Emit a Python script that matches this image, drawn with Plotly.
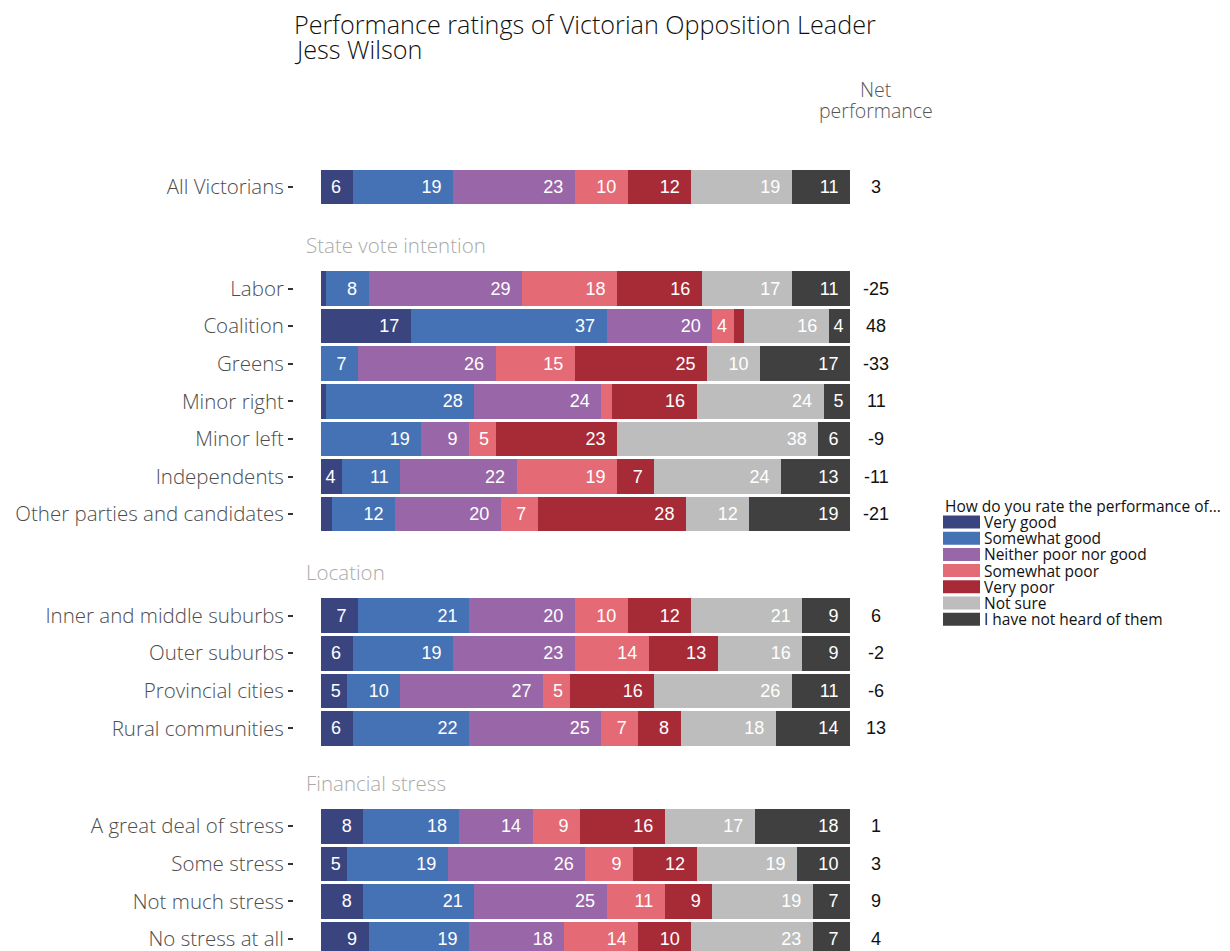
import plotly.graph_objects as go

categories = ["All Victorians",
              "Labor", "Coalition", "Greens", "Minor right", "Minor left", "Independents",
              "Other parties and candidates",
              "Inner and middle suburbs", "Outer suburbs", "Provincial cities", "Rural communities",
              "A great deal of stress", "Some stress", "Not much stress", "No stress at all"]
row_pos = [0,
           2.7, 3.7, 4.7, 5.7, 6.7, 7.7, 8.7,
           11.4, 12.4, 13.4, 14.4,
           17.0, 18.0, 19.0, 20.0]

sections = ["State vote intention", "Location", "Financial stress"]
section_pos = [1.55, 10.25, 15.85]

series_names = ["Very good", "Somewhat good", "Neither poor nor good", "Somewhat poor",
                "Very poor", "Not sure", "I have not heard of them"]
very_good = [6, 1, 17, 0, 1, 0, 4, 2, 7, 6, 5, 6, 8, 5, 8, 9]
somewhat_good = [19, 8, 37, 7, 28, 19, 11, 12, 21, 19, 10, 22, 18, 19, 21, 19]
neither = [23, 29, 20, 26, 24, 9, 22, 20, 20, 23, 27, 25, 14, 26, 25, 18]
somewhat_poor = [10, 18, 4, 15, 2, 5, 19, 7, 10, 14, 5, 7, 9, 9, 11, 14]
very_poor = [12, 16, 2, 25, 16, 23, 7, 28, 12, 13, 16, 8, 16, 12, 9, 10]
not_sure = [19, 17, 16, 10, 24, 38, 24, 12, 21, 16, 26, 18, 17, 19, 19, 23]
not_heard = [11, 11, 4, 17, 5, 6, 13, 19, 9, 9, 11, 14, 18, 10, 7, 7]
net_performance = [3, -25, 48, -33, 11, -9, -11, -21, 6, -2, -6, 13, 1, 3, 9, 4]

title_lines = ["Performance ratings of Victorian Opposition Leader", "Jess Wilson"]
net_header_lines = ["Net", "performance"]
legend_title = "How do you rate the performance of…"

colors = ["#3a4580", "#4572b4", "#9966a8", "#e46a75", "#a62b37", "#bdbdbd", "#404040"]
all_series = [very_good, somewhat_good, neither, somewhat_poor, very_poor, not_sure, not_heard]

LABEL_FONT = "Open Sans, Lato, sans-serif"
NUM_FONT = "Liberation Sans, Arial, sans-serif"
PAD = "\u00a0\u2009"

# page geometry (screen pixels; the page body adds an 8px offset)
PLOT_TOP = 140
PLOT_H = 819
PLOT_LEFT = 294
PLOT_W = 556


def py(screen_y):
    return 1 - (screen_y - PLOT_TOP) / PLOT_H


def px(screen_x):
    return (screen_x - PLOT_LEFT) / PLOT_W


def seg_label(v):
    if v < 4:
        return ""
    if v <= 5:
        return str(v) + "\u2009"
    return str(v) + PAD


fig = go.Figure()
for name, vals, col in zip(series_names, all_series, colors):
    fig.add_trace(go.Bar(
        y=row_pos, x=vals, name=name, orientation="h",
        marker=dict(color=col, line=dict(width=0)),
        width=0.92,
        text=[seg_label(v) for v in vals],
        textposition="inside", insidetextanchor="end",
        textfont=dict(family=NUM_FONT, size=18, color="white"),
        constraintext="none",
        hoverinfo="x+name",
        showlegend=False,
    ))

# net performance column
for y, v in zip(row_pos, net_performance):
    fig.add_annotation(x=px(876), xref="paper", y=y, yref="y", text=str(v), showarrow=False,
                       xanchor="center", yanchor="middle",
                       font=dict(family=NUM_FONT, size=18, color="#111111"))
for line, sy in zip(net_header_lines, [89, 111]):
    fig.add_annotation(x=px(876), xref="paper", y=py(sy), yref="paper", text=line,
                       showarrow=False, xanchor="center", yanchor="middle",
                       font=dict(family=LABEL_FONT, size=19.5, color="#555555", weight=300))

for s, p in zip(sections, section_pos):
    fig.add_annotation(x=-3.3, xref="x", y=p, yref="y", text=s, showarrow=False,
                       xanchor="left", yanchor="middle",
                       font=dict(family=LABEL_FONT, size=20.5, color="#aaaaaa", weight=300))

# title
for line, sy in zip(title_lines, [23.5, 49]):
    fig.add_annotation(x=px(292), xref="paper", y=py(sy), yref="paper", text=line,
                       showarrow=False, xanchor="left", yanchor="middle",
                       font=dict(family=LABEL_FONT, size=25.2, color="#111111", weight=300))

# legend (drawn manually to match the wide swatches)
leg_x0 = px(943)
sw_w = 37 / PLOT_W
fig.add_annotation(x=leg_x0, xref="paper", y=py(506), yref="paper",
                   text=legend_title, showarrow=False,
                   xanchor="left", yanchor="middle",
                   font=dict(family=LABEL_FONT, size=15.5, color="#111111"))
for i, (name, col) in enumerate(zip(series_names, colors)):
    cy = 522 + 16.2 * i
    fig.add_shape(type="rect", xref="paper", yref="paper",
                  x0=leg_x0, x1=leg_x0 + sw_w, y0=py(cy - 6.5), y1=py(cy + 6.5),
                  fillcolor=col, line=dict(width=0))
    fig.add_annotation(x=leg_x0 + sw_w + 1.5 / PLOT_W, xref="paper", y=py(cy), yref="paper",
                       text=name, showarrow=False, xanchor="left", yanchor="middle",
                       font=dict(family=LABEL_FONT, size=15.5, color="#111111"))

fig.update_layout(
    barmode="stack",
    width=1230, height=951,
    margin=dict(l=PLOT_LEFT - 8, r=1230 - (PLOT_LEFT - 8) - PLOT_W, t=PLOT_TOP - 8, b=0,
                autoexpand=False),
    plot_bgcolor="white", paper_bgcolor="white",
    font=dict(family=LABEL_FONT),
    showlegend=False,
    xaxis=dict(range=[-5.1, 100], visible=False, fixedrange=True),
    yaxis=dict(range=[20.53, -1.25], tickmode="array", tickvals=row_pos, ticktext=categories,
               ticks="outside", ticklen=5, tickwidth=2, tickcolor="#333333",
               tickfont=dict(family=LABEL_FONT, size=20.5, color="#4d4d4d", weight=300),
               showgrid=False, zeroline=False, showline=False, fixedrange=True),
)

fig.write_html("out.html")
